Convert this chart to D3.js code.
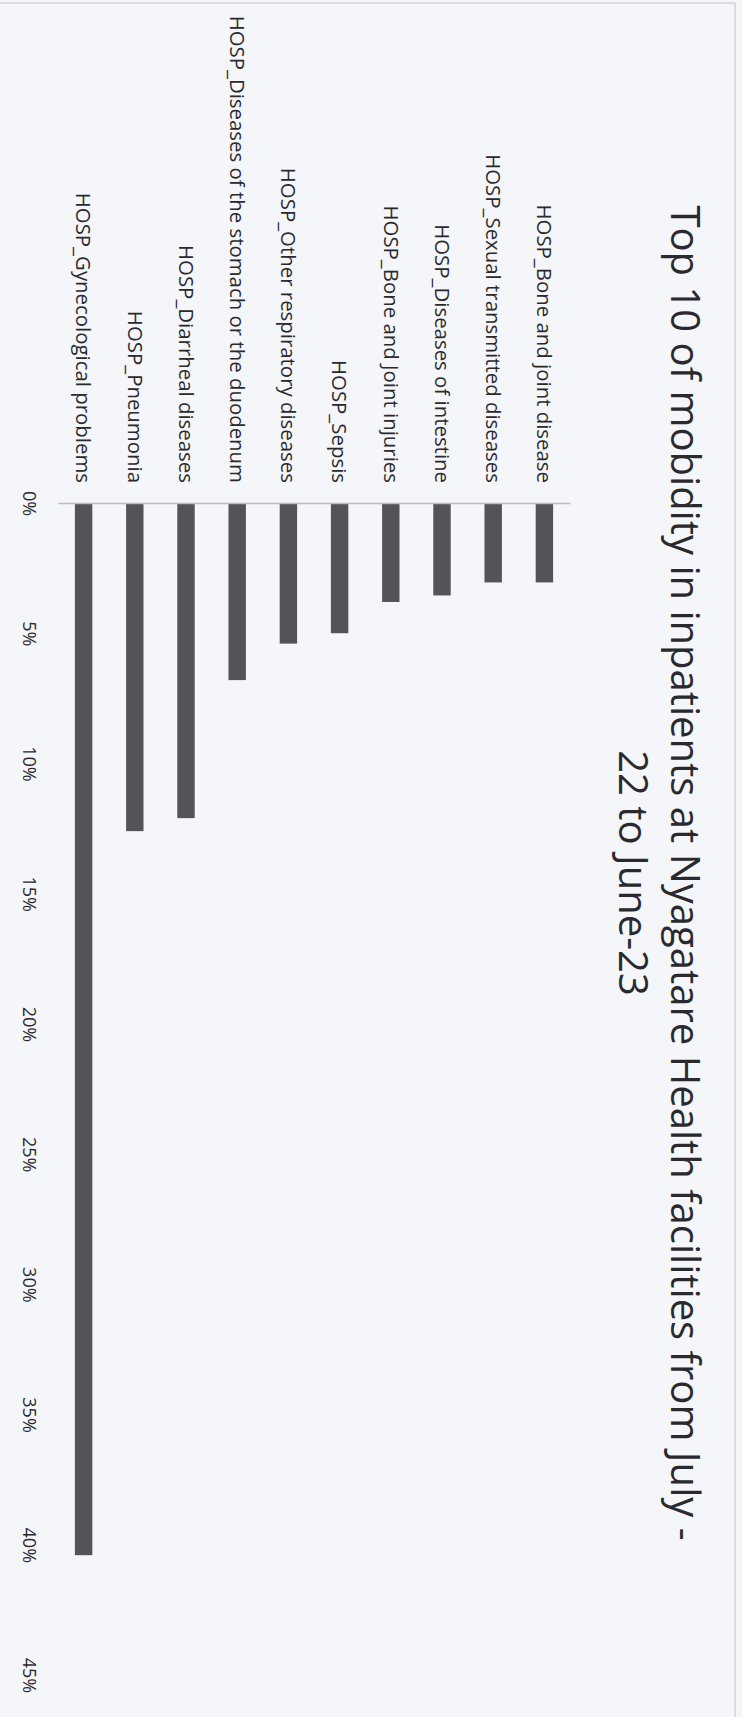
<!DOCTYPE html>
<html>
<head>
<meta charset="utf-8">
<script src="https://cdn.jsdelivr.net/npm/d3@7"></script>
<style>
  html, body { margin: 0; padding: 0; background: #f5f6fa; }
  svg { display: block; }
</style>
</head>
<body>
<script>
// ---- data (original horizontal bar chart, page is rotated 90° clockwise) ----
const categories = [
  "HOSP_Gynecological problems",
  "HOSP_Pneumonia",
  "HOSP_Diarrheal diseases",
  "HOSP_Diseases of the stomach or the duodenum",
  "HOSP_Other respiratory diseases",
  "HOSP_Sepsis",
  "HOSP_Bone and Joint injuries",
  "HOSP_Diseases of intestine",
  "HOSP_Sexual transmitted diseases",
  "HOSP_Bone and joint disease"
];
const values = [0.404, 0.126, 0.121, 0.068, 0.054, 0.050, 0.038, 0.0355, 0.0305, 0.0305];
const tickValues = [0, 0.05, 0.10, 0.15, 0.20, 0.25, 0.30, 0.35, 0.40, 0.45];
const tickLabels = ["0%", "5%", "10%", "15%", "20%", "25%", "30%", "35%", "40%", "45%"];
const titleLines = ["Top 10 of mobidity in inpatients at Nyagatare Health facilities from July -", "22 to June-23"];

const W = 742, H = 1717;
const FONT = "'Open Sans', 'Noto Sans', sans-serif";

const svg = d3.select("body").append("svg")
  .attr("width", W).attr("height", H);

svg.append("rect").attr("width", W).attr("height", H).attr("fill", "#f5f6fa");
// chart border (scanned page edge)
svg.append("rect")
  .attr("x", -2).attr("y", 3).attr("width", 737).attr("height", H + 10)
  .attr("fill", "none").attr("stroke", "#c9cad0").attr("stroke-width", 1.2);

// scales: categories across the page, values down the page
const x = d3.scaleBand().domain(categories).range([58, 570])
  .paddingInner(0.66).paddingOuter(0.33);
const y = d3.scaleLinear().domain([0, 0.45]).range([503, 1675]);

// bars
svg.append("g").selectAll("rect")
  .data(categories.map((c, i) => ({ c, v: values[i] })))
  .join("rect")
  .attr("x", d => x(d.c))
  .attr("width", x.bandwidth())
  .attr("y", y(0))
  .attr("height", d => y(d.v) - y(0))
  .attr("fill", "#535359");

// category axis (baseline)
const catAxis = svg.append("g")
  .attr("transform", `translate(0,${y(0)})`)
  .call(d3.axisTop(x).tickSize(0).tickSizeOuter(0).tickPadding(0));
catAxis.select(".domain").attr("stroke", "#b9babf").attr("stroke-width", 1.3);
catAxis.selectAll("text")
  .attr("x", -20).attr("y", 0).attr("dy", "0.35em")
  .attr("transform", "rotate(90)")
  .style("text-anchor", "end")
  .style("font-family", FONT).style("font-size", "20.4px")
  .attr("fill", "#2a2a2e");

// value axis (tick labels only)
const valAxis = svg.append("g")
  .attr("transform", "translate(23,0)")
  .call(d3.axisLeft(y).tickValues(tickValues)
    .tickFormat((d, i) => tickLabels[i]).tickSize(0));
valAxis.select(".domain").remove();
valAxis.selectAll("text")
  .attr("x", 0).attr("y", 0).attr("dy", 0)
  .attr("transform", "rotate(90)")
  .style("text-anchor", "middle")
  .style("font-family", FONT).style("font-size", "18px")
  .attr("fill", "#2a2a2e");

// title
const title = svg.append("g").attr("transform", "translate(671,873) rotate(90)");
title.selectAll("text").data(titleLines).join("text")
  .attr("x", 0).attr("y", (d, i) => i * 52)
  .attr("text-anchor", "middle")
  .style("font-family", FONT).style("font-size", "40px")
  .attr("fill", "#2a2a2e")
  .text(d => d);
</script>
</body>
</html>
